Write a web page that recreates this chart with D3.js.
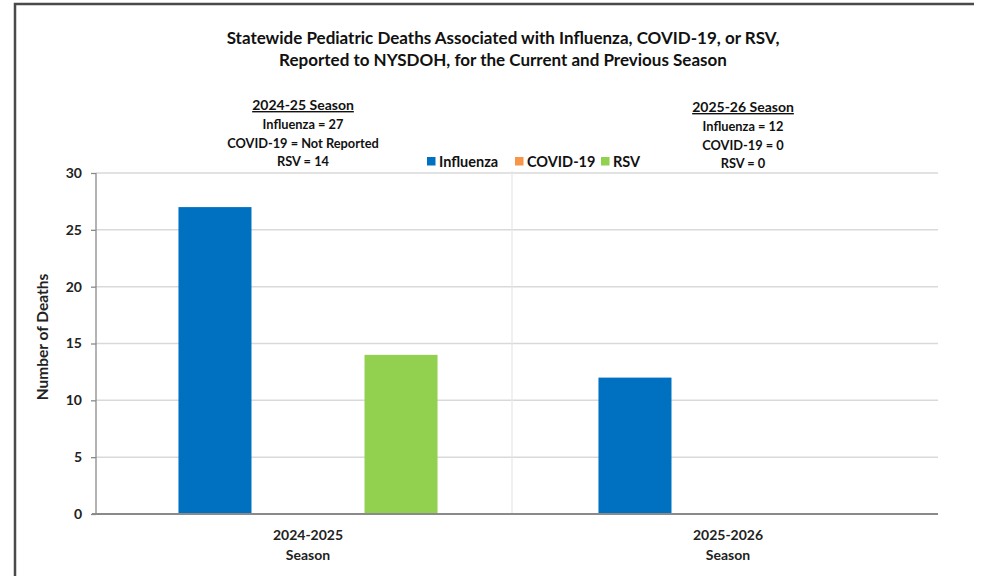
<!DOCTYPE html>
<html><head><meta charset="utf-8">
<script src="https://cdn.jsdelivr.net/npm/d3@7"></script>
<style>body{margin:0;background:#fff;} svg{display:block;font-family:Lato,"Open Sans",sans-serif;}</style>
</head><body>
<svg id="c" width="983" height="576"></svg>
<script>
const categories = ["2024-2025", "2025-2026"];
const categoryLines = [["2024-2025","Season"],["2025-2026","Season"]];
const seriesNames = ["Influenza", "COVID-19", "RSV"];
const influenza = [27, 12];
const covid19 = [0, 0];
const rsv = [14, 0];
const yTicks = [0, 5, 10, 15, 20, 25, 30];
const titleLines = ["Statewide Pediatric Deaths Associated with Influenza, COVID-19, or RSV,",
                    "Reported to NYSDOH, for the Current and Previous Season"];
const notes = [
  ["2024-25 Season", "Influenza = 27", "COVID-19 = Not Reported", "RSV = 14"],
  ["2025-26 Season", "Influenza = 12", "COVID-19 = 0", "RSV = 0"]
];
const colors = ["#0070C0", "#F79646", "#92D050"];

const svg = d3.select("#c");
const W = 983, H = 576;
// frame
svg.append("path").attr("d", `M15,${H} L15,4 L974,4`).attr("fill","none").attr("stroke","#4a4a4a").attr("stroke-width",2.5);

const x0 = d3.scaleBand().domain(categories).range([98, 938]);
const x1 = d3.scaleBand().domain(seriesNames).range([0, x0.bandwidth()]).paddingInner(0.215).paddingOuter(0.865);
const y = d3.scaleLinear().domain([0, 30]).range([514, 173]);

// gridlines
svg.append("g").selectAll("line").data(yTicks.filter(d=>d>0)).join("line")
  .attr("x1", 96).attr("x2", 938).attr("y1", d=>y(d)).attr("y2", d=>y(d))
  .attr("stroke", "#d9d9d9").attr("stroke-width", 1.5);
// divider between categories
svg.append("line").attr("x1", x0(categories[1])-6).attr("x2", x0(categories[1])-6)
  .attr("y1", y(30)-2).attr("y2", y(0)).attr("stroke", "#e6e6e6").attr("stroke-width", 1.2);

// bars
const data = categories.map((c,i)=>({cat:c, vals:[influenza[i], covid19[i], rsv[i]]}));
const g = svg.append("g");
data.forEach(d=>{
  g.selectAll(null).data(d.vals.map((v,j)=>({s:seriesNames[j], v, j}))).join("rect")
    .attr("x", e=>x0(d.cat)+x1(e.s)).attr("width", x1.bandwidth())
    .attr("y", e=>y(e.v)).attr("height", e=>y(0)-y(e.v))
    .attr("fill", e=>colors[e.j]);
});

// y axis
const yAxis = d3.axisLeft(y).tickValues(yTicks).tickSize(5).tickPadding(9);
const ya = svg.append("g").attr("transform","translate(96,0)").call(yAxis);
ya.select(".domain").attr("stroke","#8a8a8a").attr("stroke-width",1.3).attr("d","M0,173V514");
ya.selectAll(".tick line").attr("stroke","#8a8a8a").attr("stroke-width",1.3);
ya.selectAll(".tick text").attr("font-size",14).attr("font-weight","bold").attr("fill","#222")
  .attr("font-family","Lato,sans-serif");

// x axis line
svg.append("line").attr("x1",92).attr("x2",938).attr("y1",y(0)).attr("y2",y(0))
  .attr("stroke","#8a8a8a").attr("stroke-width",1.8);

// category labels
categories.forEach((c,i)=>{
  const cx = x0(c) + x0.bandwidth()/2;
  categoryLines[i].forEach((t,k)=>{
    svg.append("text").attr("x",cx).attr("y",540+k*20).attr("text-anchor","middle")
      .attr("font-size",14).attr("font-weight","bold").attr("fill","#222").text(t);
  });
});

// y label
svg.append("text").attr("transform","translate(48,337) rotate(-90)").attr("text-anchor","middle")
  .attr("font-size",15.5).attr("font-weight","bold").attr("fill","#222").text("Number of Deaths");

// title
titleLines.forEach((t,k)=>{
  svg.append("text").attr("x",503).attr("y",44+k*22).attr("text-anchor","middle")
    .attr("font-size",17).attr("font-weight","bold").attr("fill","#111").text(t);
});

// notes
const noteX = [303, 743];
const noteY0 = [110, 112];
notes.forEach((lines,i)=>{
  lines.forEach((t,k)=>{
    const tx = svg.append("text").attr("x",noteX[i]).attr("y",noteY0[i]+k*18.3+(k>0?1:0)).attr("text-anchor","middle")
      .attr("font-size", k===0?14:12.8).attr("font-weight","bold").attr("fill","#111").text(t);
    if(k===0) tx.attr("text-decoration","underline");
  });
});

// legend
const legX = [427, 515, 601];
seriesNames.forEach((s,i)=>{
  svg.append("rect").attr("x",legX[i]).attr("y",157).attr("width",8.5).attr("height",8.5).attr("fill",colors[i]);
  svg.append("text").attr("x",legX[i]+12).attr("y",167).attr("font-size",14.5).attr("font-weight","bold")
    .attr("fill","#111").text(s);
});
</script>
</body></html>
